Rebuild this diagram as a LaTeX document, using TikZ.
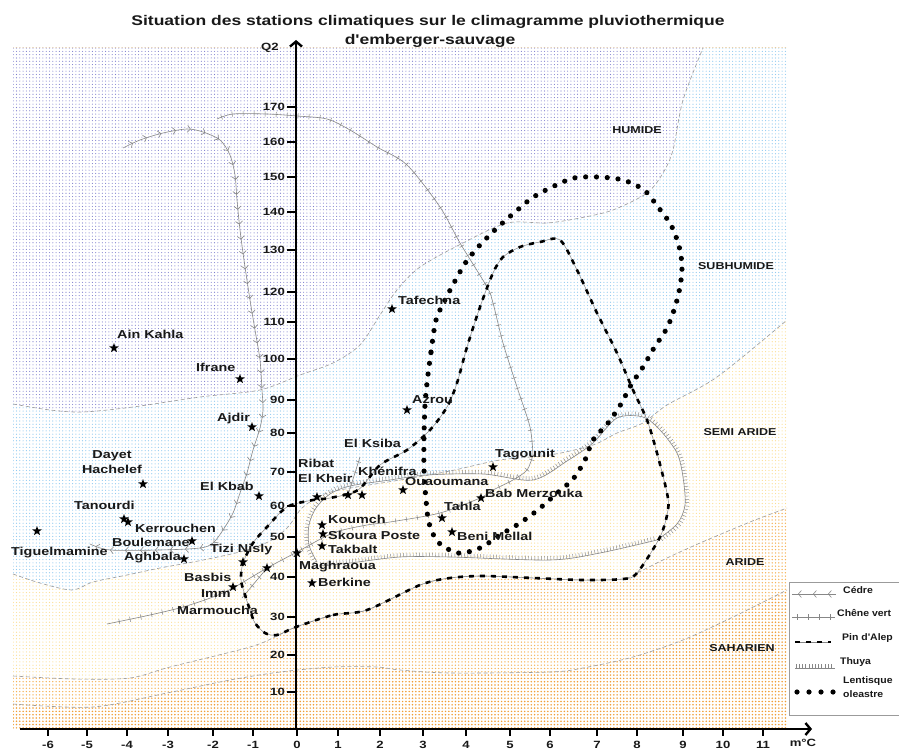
\documentclass[tikz,border=0pt]{standalone}
\usepackage{fontspec}
\newfontfamily\lab{Liberation Sans}[FakeStretch=1.25]
\newfontfamily\labl{Liberation Sans}[FakeStretch=1.1]
\usetikzlibrary{shapes.geometric,arrows.meta,patterns.meta,decorations.markings}
\definecolor{humc}{RGB}{125,125,205}
\definecolor{subc}{RGB}{145,202,240}
\definecolor{semc}{RGB}{252,222,145}
\definecolor{aric}{RGB}{245,180,90}
\definecolor{sahc}{RGB}{240,158,55}
\definecolor{vgray}{RGB}{135,135,135}
\definecolor{bgray}{RGB}{155,155,155}
\definecolor{ink}{RGB}{25,25,25}
\newcommand\bndA{plot[smooth] coordinates {(13,404) (50,410) (83,412) (133,407) (200,397) (260,390) (300,375) (333,363) (360,345) (380,315) (397,290) (420,267) (463,243) (507,223) (547,223) (580,218) (613,210) (647,193) (663,173) (673,150) (683,100) (703,48)}}
\newcommand\bndB{plot[smooth] coordinates {(13,574) (40,583) (72,590) (93,582) (127,575) (160,568) (193,562) (227,555) (250,549) (272,540) (288,527) (302,508) (322,495) (345,489) (400,480) (450,471) (500,460) (550,455) (593,445) (617,433) (643,423) (667,405) (717,377) (787,320)}}
\newcommand\bndC{plot[smooth] coordinates {(13,676) (75,679) (130,678) (170,667) (250,647) (277,636) (296,627) (333,615) (367,610) (420,585) (450,578) (483,576) (533,578) (583,580) (623,579) (637,573) (667,558) (700,543) (750,522) (787,508)}}
\newcommand\bndD{plot[smooth] coordinates {(13,704) (93,707) (167,693) (230,680) (280,672) (333,667) (377,667) (400,670) (450,673) (550,672) (583,668) (633,657) (683,640) (733,617) (787,590)}}
\begin{document}
\begin{tikzpicture}[x=1pt,y=-1pt,
  sahz/.style={preaction={fill=white}, pattern={Dots[distance=3.3pt,radius=0.85pt]}, pattern color=sahc},
  ariz/.style={preaction={fill=white}, pattern={Dots[distance=3.3pt,radius=0.75pt]}, pattern color=aric},
  semz/.style={preaction={fill=white}, pattern={Dots[distance=3.3pt,radius=0.6pt]}, pattern color=semc},
  subz/.style={preaction={fill=white}, pattern={Dots[distance=3.3pt,radius=0.6pt]}, pattern color=subc},
  humz/.style={preaction={fill=white}, pattern={Dots[distance=3.3pt,radius=0.55pt]}, pattern color=humc},
  bnd/.style={draw=bgray, line width=0.6pt, dash pattern=on 4pt off 2.5pt},
  cedre/.style={draw=vgray, line width=0.6pt, postaction={decorate, color=vgray, decoration={markings, mark=between positions 6pt and -3pt step 15pt with {\arrowreversed[vgray, line width=0.6pt]{Straight Barb[length=3pt,width=7pt]}}}}},
  chene/.style={draw=vgray, line width=0.6pt, postaction={decorate, decoration={markings, mark=between positions 5pt and -3pt step 11pt with {\draw[vgray, line width=0.5pt] (0pt,-2.6pt) -- (0pt,2.6pt);}}}},
  thuya/.style={draw=vgray, line width=0.6pt, postaction={decorate, decoration={markings, mark=between positions 1pt and -1pt step 3.2pt with {\draw[vgray, line width=0.45pt] (0pt,0pt) -- (0pt,4pt);}}}},
  pin/.style={draw=vgray, line width=0.5pt, postaction={draw=black, line width=2.6pt, dash pattern=on 5pt off 6pt}},
  lent/.style={draw=black, line width=5.2pt, line cap=round, dash pattern=on 0pt off 10.8pt},
  stn/.style={star, star points=5, star point ratio=2.4, fill=black, draw=none, inner sep=0pt, minimum size=10pt},
  lbl/.style={font=\lab\bfseries\fontsize{11.5}{15}\selectfont, text=ink, inner sep=0pt, anchor=west},
  zlb/.style={font=\lab\bfseries\fontsize{10}{12}\selectfont, text=ink, inner sep=0pt},
  tkl/.style={font=\lab\bfseries\fontsize{10.5}{12}\selectfont, text=ink, inner sep=0pt},
  ttl/.style={font=\lab\bfseries\fontsize{14}{16}\selectfont, text=ink, inner sep=0pt},
  leg/.style={font=\labl\bfseries\fontsize{9.5}{14}\selectfont, text=ink, inner sep=0pt, anchor=west},
  axln/.style={draw=black, line width=2.4pt},
  tick/.style={draw=black, line width=2pt}]
\useasboundingbox (0,0) rectangle (899,751);
\clip (0,0) rectangle (899,751);
\fill[white] (0,0) rectangle (899,751);
% climate zones
\path[sahz] (13,48) rectangle (787,729);
\path[ariz] \bndD -- (787,48) -- (13,48) -- cycle;
\path[semz] \bndC -- (787,48) -- (13,48) -- cycle;
\path[subz] \bndB -- (787,48) -- (13,48) -- cycle;
\path[humz] \bndA -- (13,48) -- cycle;
\draw[bnd] \bndA;
\draw[bnd] \bndB;
\draw[bnd] \bndC;
\draw[bnd] \bndD;
% title
\node[ttl] (t1) at (428,22) {Situation des stations climatiques sur le climagramme pluviothermique};
\node[ttl] (t2) at (430,41) {d'emberger-sauvage};
% zone labels
\node[zlb] (zh) at (637,130) {HUMIDE};
\node[zlb] (zs) at (736,266) {SUBHUMIDE};
\node[zlb] (zsa) at (740,432) {SEMI ARIDE};
\node[zlb] (za) at (745,562) {ARIDE};
\node[zlb] (zsh) at (742,648) {SAHARIEN};
% vegetation: Cedre
\draw[cedre] plot[smooth] coordinates {(90,544) (110,550) (160,550) (200,548) (213,543) (223,530) (233,513) (240,493) (247,473) (253,450) (260,428) (263,410) (262,390) (260,360) (255,330) (250,300) (244,260) (240,230) (237,200) (235,175) (230,155) (220,140) (203,132) (187,129) (163,133) (140,140) (123,148)};
% Chene vert
\draw[chene] plot[smooth] coordinates {(217,119) (233,114) (267,114) (297,116) (327,119) (350,130) (377,147) (407,165) (440,207) (460,243) (487,287) (493,303) (503,343) (517,387) (530,427) (533,455)};
\draw[chene] plot[smooth] coordinates {(533,455) (527,470) (513,480) (493,490) (480,498) (440,513) (390,522) (367,525) (333,533) (297,552) (267,568) (233,588) (213,597) (183,607) (150,615) (107,624)};
\draw[chene] (242,598) -- (267,568);
\draw[chene] (360,457) -- (348,495);
% Thuya
\draw[thuya] plot[smooth] coordinates {(317,562) (309,545) (309,525) (316,508) (330,494) (350,486) (390,480) (427,475) (483,474) (533,480) (567,461) (593,443) (617,418) (643,417) (660,430) (677,453) (683,477) (685,505) (677,524) (657,540)};
\draw[thuya] plot[smooth] coordinates {(320,566) (350,563) (400,557) (450,557) (550,560) (600,553) (657,540)};
% Pin d'Alep
\draw[pin] plot[smooth cycle] coordinates {(296,627) (333,615) (367,610) (420,585) (450,578) (483,576) (533,578) (583,580) (623,579) (637,573) (660,537) (668,510) (667,493) (657,453) (647,420) (633,390) (617,353) (597,313) (577,270) (560,240) (540,242) (520,247) (503,257) (493,273) (480,307) (467,347) (457,383) (447,407) (430,430) (407,450) (380,465) (358,490) (330,498) (313,500) (287,507) (267,527) (253,543) (243,563) (241,580) (245,595) (250,610) (255,623) (265,633) (277,635)};
% Lentisque oleastre
\draw[lent] plot[smooth cycle] coordinates {(427,383) (431,352) (436,320) (445,300) (455,281) (466,262) (480,245) (497,228) (514,213) (532,198) (552,187) (574,178) (598,177) (623,180) (644,190) (658,207) (671,225) (679,246) (682,266) (680,287) (675,307) (667,328) (654,348) (643,367) (631,385) (621,404) (608,423) (593,440) (585,460) (573,479) (556,494) (539,509) (520,523) (500,535) (480,548) (458,553) (438,542) (429,523) (426,500) (424,470) (424,437) (425,405)};
% axes
\draw[axln, -{Straight Barb[length=5pt,width=12pt]}] (296,729) -- (296,40);
\draw[axln, -{Straight Barb[length=5pt,width=12pt]}] (20,729) -- (812,729);
\node[tkl] (q2) at (270,48) {Q2};
\node[tkl] (mc) at (803,743) {m°C};
\foreach \v/\p [count=\i] in {170/107,160/142,150/177,140/212,130/250,120/292,110/322,100/359,90/400,80/433,70/472,60/506,50/537,40/577,30/617,20/655,10/692} {
  \draw[tick] (287,\p) -- (296,\p);
  \node[tkl, anchor=east] (yl\i) at (285,\p) {\v};
}
\foreach \v/\p [count=\i] in {-6/48,-5/87,-4/127,-3/168,-2/213,-1/253,0/297,1/338,2/380,3/423,4/466,5/510,6/550,7/597,8/637,9/683,10/723,11/763} {
  \draw[tick] (\p,729) -- (\p,736);
  \node[tkl] (xl\i) at (\p,745) {\v};
}
% stations
\node[stn] (s1) at (114,348) {};  \node[lbl] (l1) at (117,334) {Ain Kahla};
\node[stn] (s2) at (240,379) {};  \node[lbl] (l2) at (196,367) {Ifrane};
\node[stn] (s3) at (252,427) {};  \node[lbl] (l3) at (217,419) {Ajdir};
\node[stn] (s4) at (143,484) {};  \node[lbl, anchor=center, align=center] (l4) at (112,462) {Dayet\\Hachelef};
\node[stn] (s5) at (259,496) {};  \node[lbl] (l5) at (200,486) {El Kbab};
\node[stn] (s6) at (124,519) {};  \node[lbl] (l6) at (74,505) {Tanourdi};
\node[stn] (s7) at (128,522) {};  \node[lbl] (l7) at (135,528) {Kerrouchen};
\node[stn] (s8) at (37,531) {};   \node[lbl] (l8) at (11,553) {Tiguelmamine};
\node[stn] (s9) at (192,541) {};  \node[lbl] (l9) at (112,542) {Boulemane};
\node[stn] (s10) at (184,559) {}; \node[lbl] (l10) at (124,558) {Aghbala};
\node[stn] (s11) at (243,562) {}; \node[lbl] (l11) at (210,550) {Tizi Nisly};
\node[stn] (s12) at (267,568) {}; \node[lbl] (l12) at (184,577) {Basbis};
\node[stn] (s13) at (233,587) {}; \node[lbl] (l13) at (201,594) {Imm};
\node[lbl] (l14) at (177,610) {Marmoucha};
\node[stn] (s15) at (297,553) {}; \node[lbl] (l15) at (299,567) {Maghraoua};
\node[stn] (s16) at (312,583) {}; \node[lbl] (l16) at (318,582) {Berkine};
\node[stn] (s17) at (322,525) {}; \node[lbl] (l17) at (328,519) {Koumch};
\node[stn] (s18) at (323,534) {}; \node[lbl] (l18) at (328,535) {Skoura Poste};
\node[stn] (s19) at (322,546) {}; \node[lbl] (l19) at (328,549) {Takbalt};
\node[stn] (s20) at (317,497) {}; \node[lbl, align=left] (l20) at (298,471) {Ribat\\El Kheir};
\node[stn] (s21) at (348,495) {}; \node[lbl] (l21) at (358,471) {Khénifra};
\node[stn] (s22) at (362,495) {}; \node[lbl] (l22) at (344,443) {El Ksiba};
\node[stn] (s23) at (403,490) {}; \node[lbl] (l23) at (405,482) {Ouaoumana};
\node[stn] (s24) at (407,410) {}; \node[lbl] (l24) at (412,400) {Azrou};
\node[stn] (s25) at (392,309) {}; \node[lbl] (l25) at (398,300) {Tafechna};
\node[stn] (s26) at (493,467) {}; \node[lbl] (l26) at (495,455) {Tagounit};
\node[stn] (s27) at (481,498) {}; \node[lbl] (l27) at (485,493) {Bab Merzouka};
\node[stn] (s28) at (442,518) {}; \node[lbl] (l28) at (444,506) {Tahla};
\node[stn] (s29) at (452,532) {}; \node[lbl] (l29) at (457,536) {Beni Mellal};
% legend
\draw[draw=bgray, fill=white, line width=0.7pt] (789,582) rectangle (910,715);
\coordinate (c1a) at (792,594); \coordinate (c1b) at (836,594);
\draw[cedre] (c1a) -- (c1b);
\node[leg] (g1) at (843,590) {Cédre};
\coordinate (c2a) at (792,617); \coordinate (c2b) at (835,617);
\draw[chene] (c2a) -- (c2b);
\node[leg] (g2) at (837,613) {Chêne vert};
\coordinate (c3a) at (795,642); \coordinate (c3b) at (831,642);
\draw[pin] (c3a) -- (c3b);
\node[leg] (g3) at (842,638) {Pin d'Alep};
\coordinate (c4a) at (795,668); \coordinate (c4b) at (835,668);
\draw[thuya] (c4a) -- (c4b);
\node[leg] (g4) at (840,662) {Thuya};
\foreach \x [count=\i] in {797,809,821,833} { \fill[black] (\x,692) circle (2.6pt); }
\node[leg, align=left] (g5) at (843,687) {Lentisque\\oleastre};
\end{tikzpicture}
\end{document}
